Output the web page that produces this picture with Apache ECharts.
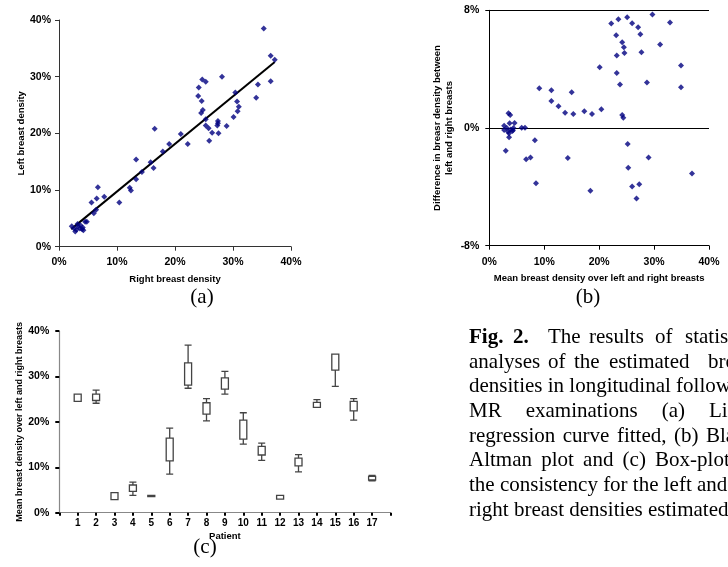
<!DOCTYPE html>
<html>
<head>
<meta charset="utf-8">
<script src="https://cdn.jsdelivr.net/npm/echarts@6/dist/echarts.min.js"></script>
<style>
html,body{margin:0;padding:0;background:#fff;}
#c{width:728px;height:567px;}
</style>
</head>
<body>
<div id="c"></div>
<script>
// ---------- Panel (a): left vs right breast density (%) ----------
const rightDensity = [2.2,2.8,3.2,3.3,3.6,3.7,4.0,4.1,4.2,4.5,4.8,3.0,2.6,5.6,6.0,6.4,6.5,6.7,7.8,10.4,12.2,12.4,13.3,13.3,14.3,15.8,16.3,16.5,17.9,19.0,21.0,22.2,24.0,24.1,24.7,25.3,24.6,24.8,24.5,25.3,25.3,25.8,26.4,25.9,27.4,27.4,27.3,27.5,28.9,28.1,30.1,30.4,30.7,30.8,31.0,34.0,34.3,35.3,36.5,36.5,37.2];
const leftDensity  = [3.6,2.7,4.0,3.6,3.2,3.8,3.1,3.4,2.9,4.4,4.4,3.0,3.2,7.8,5.9,6.5,8.5,10.5,8.8,7.8,10.4,9.9,15.4,11.9,13.2,14.9,13.9,20.8,16.8,18.1,19.9,18.1,26.6,28.1,29.5,29.1,25.7,24.1,23.6,22.5,21.4,20.9,20.1,18.7,22.2,21.8,21.4,20.0,21.3,30.0,22.9,27.2,25.6,23.9,24.7,26.3,28.6,38.5,33.7,29.2,33.0];
const fitLineX = [2.1, 37.2];
const fitLineY = [3.1, 32.6];

// ---------- Panel (b): Bland-Altman (%) ----------
const meanDensity = [2.7,2.7,3.0,3.2,3.4,3.5,3.8,3.7,3.6,3.6,3.9,4.2,4.4,4.6,4.3,5.9,6.5,8.3,6.7,7.5,8.5,9.1,11.3,11.3,12.6,13.8,14.3,15.0,15.3,17.3,18.7,18.4,20.1,20.4,22.2,23.1,23.2,23.2,23.5,23.8,24.2,24.2,24.4,24.5,24.6,25.1,25.2,25.3,26.0,26.0,26.8,27.1,27.3,27.5,27.7,28.7,29.0,29.7,31.1,32.9,34.9,34.9,36.9];
const diffDensity = [0.16,-0.14,-1.54,0.0,-0.25,1.0,0.88,0.32,-0.36,-0.63,-0.1,-0.2,0.0,0.34,-0.15,0.02,0.02,-0.84,-2.13,-2.0,-3.76,2.7,2.56,1.84,1.47,1.04,-2.04,2.43,0.95,1.13,0.95,-4.26,4.13,1.27,7.1,6.3,4.92,3.74,7.39,2.95,5.83,0.88,0.7,5.49,5.1,7.53,-1.09,-2.7,7.12,-3.97,-4.8,6.85,-3.83,6.37,5.15,3.1,-2.0,7.71,5.67,7.17,4.24,2.77,-3.1];

// ---------- Panel (c): box plots per patient (%) ----------
const patients     = ['1','2','3','4','5','6','7','8','9','10','11','12','13','14','15','16','17'];
const whiskerLow   = [24.5,24.1,2.9,3.8,3.55,8.5,27.4,20.2,26.1,15.1,11.5,3.0,9.0,23.2,27.8,20.4,7.0];
const boxLow       = [24.5,24.7,2.9,4.7,3.55,11.4,28.1,21.7,27.2,16.2,12.7,3.0,10.3,23.2,31.4,22.4,7.2];
const boxHigh      = [26.1,26.1,4.4,6.1,3.8,16.4,33.0,24.2,29.7,20.4,14.6,3.8,12.0,24.3,34.9,24.5,8.0];
const whiskerHigh  = [26.1,27.0,4.4,6.75,3.8,18.6,36.9,25.1,31.1,22.0,15.3,3.8,12.8,24.9,34.9,25.1,8.2];

// ---------- Tick values ----------
const pctTicksA = [0,10,20,30,40];
const diffTicks = [-8,0,8];

const chart = echarts.init(document.getElementById('c'), null, {renderer:'canvas'});

const SANS = 'Liberation Sans, Arial, sans-serif';
const SERIF = 'Liberation Serif, Times New Roman, serif';
const tickLbl = {fontFamily:SANS, fontWeight:'bold', fontSize:10.5, color:'#000'};
const nameStyle = {fontFamily:SANS, fontWeight:'bold', fontSize:9.5, color:'#000'};
const pct = v => v + '%';

const scatterA = rightDensity.map((x,i)=>[x,leftDensity[i]]);
const fitA = fitLineX.map((x,i)=>[x,fitLineY[i]]);
const scatterB = meanDensity.map((x,i)=>[x,diffDensity[i]]);
const boxData = patients.map((p,i)=>[i+1, whiskerLow[i], boxLow[i], boxLow[i], boxHigh[i], whiskerHigh[i]]);
const catAxisData = [''].concat(patients, ['\u00a0']);

// caption lines (justified text): [y, [[x, text, bold], ...]]
const caption = [
  [337.5, [[469,'Fig.',true],[513,'2.',true],[548,'The'],[589,'results'],[655,'of'],[685,'statistical']]],
  [362,   [[469,'analyses'],[548,'of'],[574,'the'],[609,'estimated'],[708,'breast']]],
  [386.7, [[469,'densities in longitudinal follow-up']]],
  [411.5, [[469,'MR'],[525.7,'examinations'],[661.7,'(a)'],[709,'Linear']]],
  [436,   [[469,'regression'],[562.8,'curve'],[616.9,'fitted,'],[674,'(b)'],[706,'Bland-']]],
  [460.5, [[469,'Altman'],[541.2,'plot'],[583.1,'and'],[622.6,'(c)'],[655.1,'Box-plot of']]],
  [485,   [[469,'the consistency for the left and']]],
  [510,   [[469,'right breast densities estimated']]]
];
const graphics = [];
caption.forEach(([y, words])=>{
  words.forEach(([x,t,b])=>{
    graphics.push({type:'text', x:x, y:y, silent:true,
      style:{text:t, fill:'#000', font:(b?'bold ':'')+'21px '+SERIF, verticalAlign:'middle', textVerticalAlign:'middle', align:'left', textAlign:'left'}});
  });
});
[[202,297,'(a)'],[588,297,'(b)'],[205,547,'(c)']].forEach(([x,y,t])=>{
  graphics.push({type:'text', x:x, y:y, silent:true,
    style:{text:t, fill:'#000', font:'21px '+SERIF, verticalAlign:'middle', textVerticalAlign:'middle', align:'center', textAlign:'center'}});
});

const option = {
  animation:false,
  backgroundColor:'#fff',
  grid:[
    {left:59, top:20, width:232, height:226.7},
    {left:489.3, top:10.3, width:219.7, height:235.4},
    {left:59.3, top:331, width:331.2, height:181.7}
  ],
  xAxis:[
    {type:'value', gridIndex:0, min:0, max:40, interval:10,
     axisLine:{show:true, onZero:false, lineStyle:{color:'#333', width:1}},
     axisTick:{show:true, length:4, lineStyle:{color:'#333'}},
     splitLine:{show:false},
     axisLabel:{...tickLbl, formatter:pct, margin:10},
     name:'Right breast density', nameLocation:'middle', nameGap:28, nameTextStyle:nameStyle},
    {type:'value', gridIndex:1, min:0, max:40, interval:10,
     axisLine:{show:true, onZero:false, lineStyle:{color:'#000', width:1}},
     axisTick:{show:true, length:4, lineStyle:{color:'#000'}},
     splitLine:{show:false},
     axisLabel:{...tickLbl, formatter:pct, margin:11},
     name:'Mean breast density over left and right breasts', nameLocation:'middle', nameGap:28, nameTextStyle:nameStyle},
    {type:'category', gridIndex:2, data:catAxisData, boundaryGap:false,
     axisLine:{show:true, onZero:false, lineStyle:{color:'#888', width:1.2}},
     axisTick:{show:true, interval:0, length:3, lineStyle:{color:'#000', width:2}},
     axisLabel:{...tickLbl, fontSize:10, interval:0, margin:6},
     splitLine:{show:false},
     name:'Patient', nameLocation:'middle', nameGap:19, nameTextStyle:nameStyle},
    {type:'value', gridIndex:2, position:'top', min:0, max:1,
     axisLine:{show:true, lineStyle:{color:'#888', width:1.2}},
     axisTick:{show:false}, axisLabel:{show:false}, splitLine:{show:false}}
  ],
  yAxis:[
    {type:'value', gridIndex:0, min:pctTicksA[0], max:pctTicksA[pctTicksA.length-1], interval:10,
     axisLine:{show:true, lineStyle:{color:'#333', width:1}},
     axisTick:{show:true, length:4, lineStyle:{color:'#333'}},
     splitLine:{show:false},
     axisLabel:{...tickLbl, formatter:pct, margin:8},
     name:'Left breast density', nameLocation:'middle', nameRotate:90, nameGap:33, nameTextStyle:nameStyle},
    {type:'value', gridIndex:1, min:diffTicks[0], max:diffTicks[diffTicks.length-1], interval:8,
     axisLine:{show:true, onZero:false, lineStyle:{color:'#000', width:1}},
     axisTick:{show:true, length:4, lineStyle:{color:'#000'}},
     splitLine:{show:true, lineStyle:{color:'#000', width:1}},
     axisLabel:{...tickLbl, formatter:pct, margin:10},
     name:'Difference in breasr density between\nleft and right breasts', nameLocation:'middle', nameRotate:90, nameGap:34,
     nameTextStyle:{...nameStyle, lineHeight:12}},
    {type:'value', gridIndex:2, min:0, max:40, interval:10,
     axisLine:{show:true, lineStyle:{color:'#888', width:1.2}},
     axisTick:{show:true, length:4, lineStyle:{color:'#000', width:2}},
     splitLine:{show:false},
     axisLabel:{...tickLbl, formatter:pct, margin:10},
     name:'Mean breast density over left and right breasts', nameLocation:'middle', nameRotate:90, nameGap:34, nameTextStyle:{...nameStyle, fontSize:9}}
  ],
  series:[
    {type:'scatter', xAxisIndex:0, yAxisIndex:0, data:scatterA, symbol:'diamond', symbolSize:6,
     itemStyle:{color:'#000080'}, silent:true, z:3},
    {type:'line', xAxisIndex:0, yAxisIndex:0, data:fitA, symbol:'none', silent:true,
     lineStyle:{color:'#000', width:2}, z:2},
    {type:'scatter', xAxisIndex:1, yAxisIndex:1, data:scatterB, symbol:'diamond', symbolSize:6,
     itemStyle:{color:'#000080'}, silent:true, z:3},
    {type:'boxplot', xAxisIndex:2, yAxisIndex:2, data:boxData, encode:{x:0, y:[1,2,3,4,5]},
     boxWidth:[7,7], silent:true,
     itemStyle:{color:'#fff', borderColor:'#444', borderWidth:1.3}}
  ],
  graphic:graphics
};
chart.setOption(option);
</script>
</body>
</html>
